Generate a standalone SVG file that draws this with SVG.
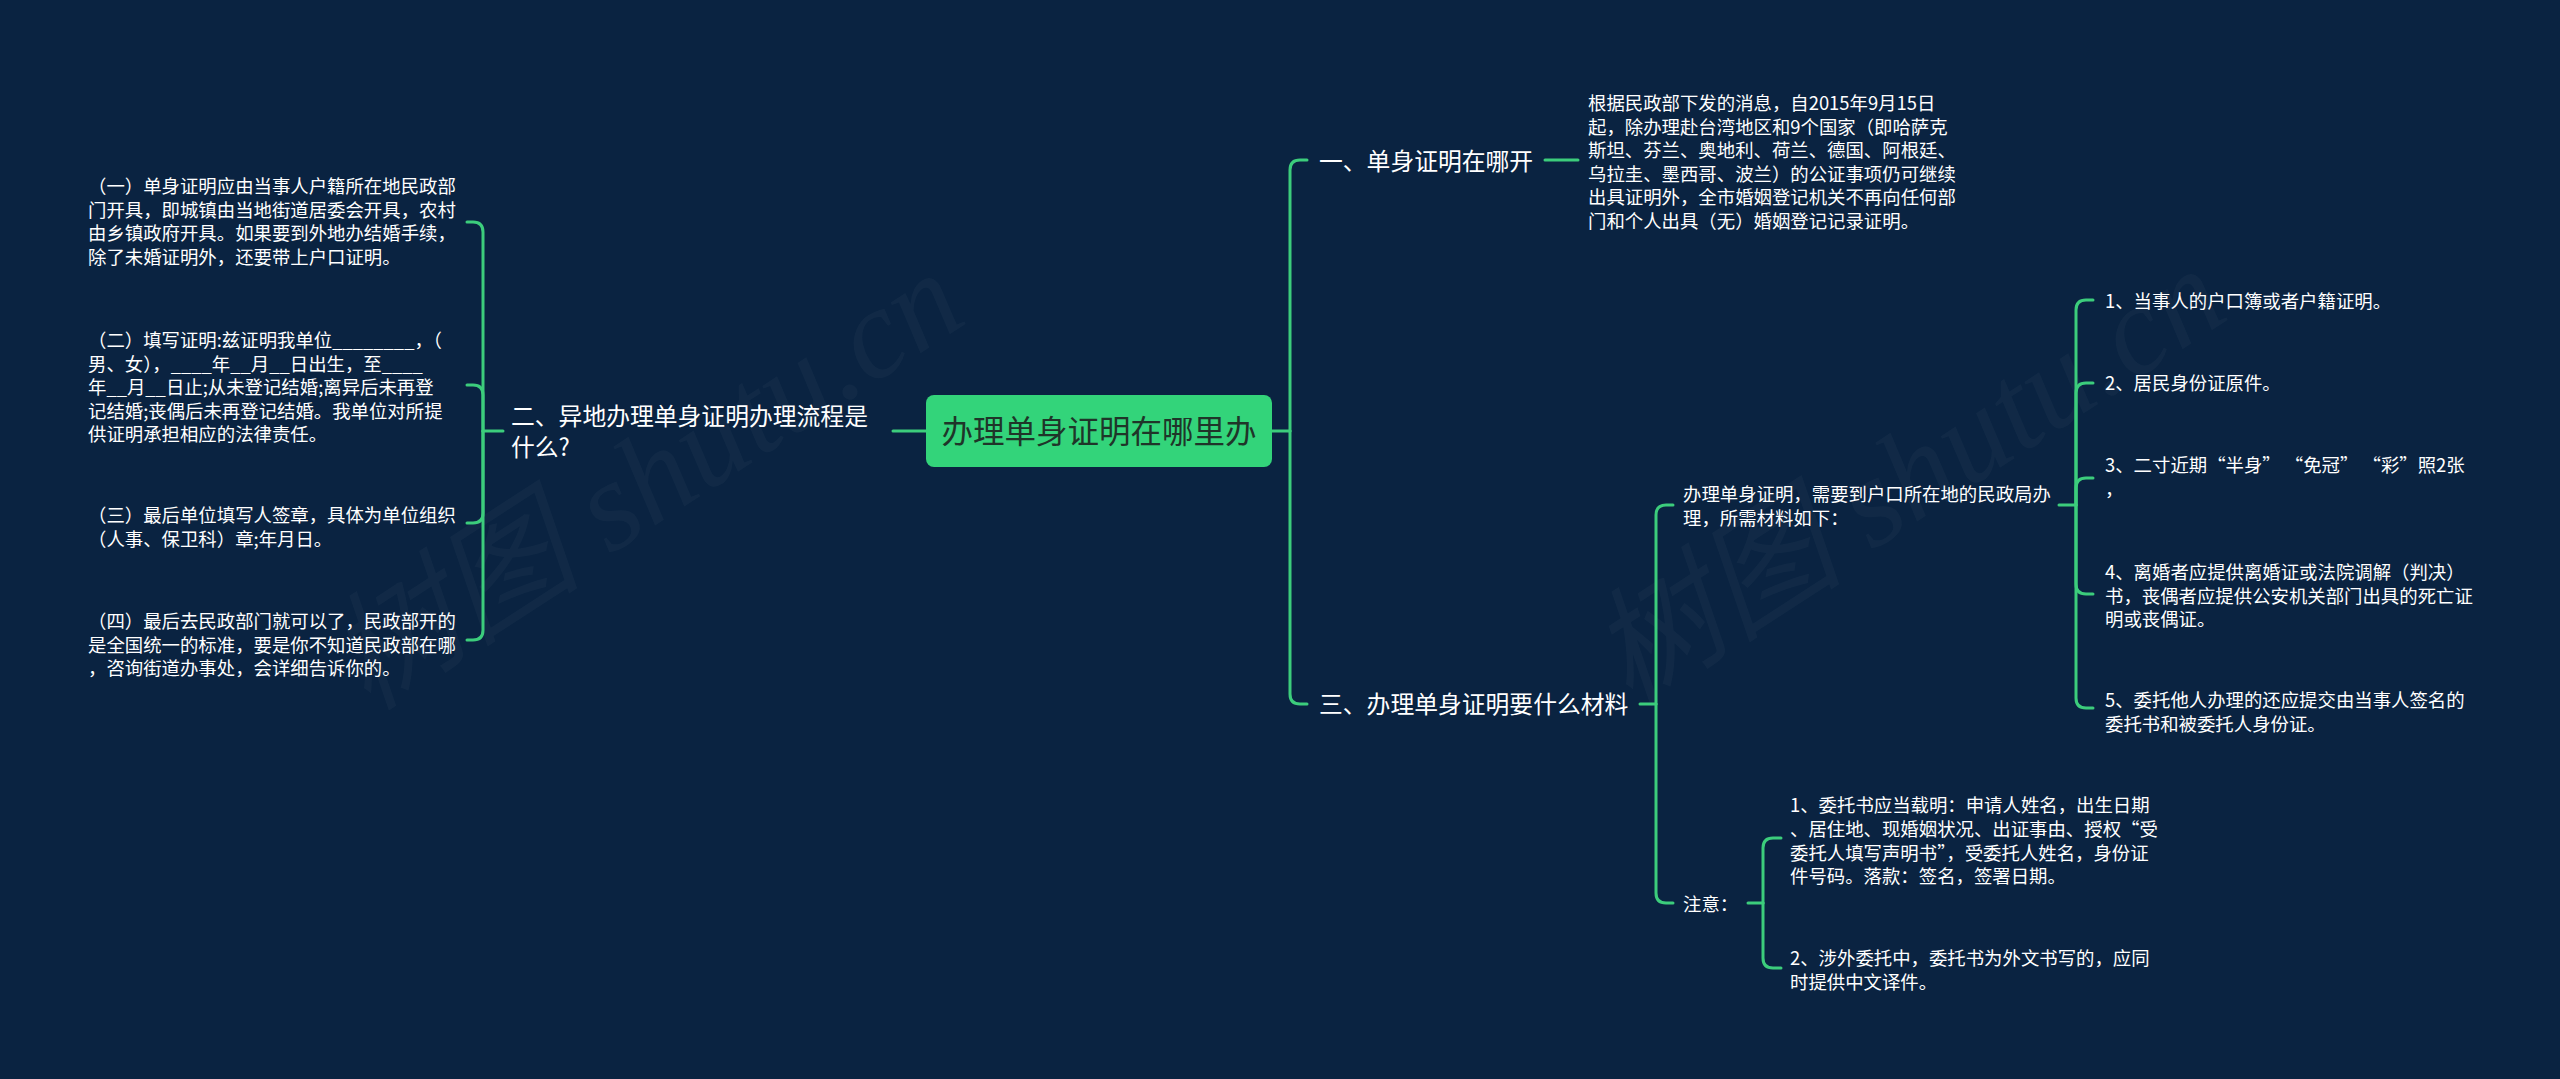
<svg xmlns="http://www.w3.org/2000/svg" width="2560" height="1079" viewBox="0 0 2560 1079">
<style>
.bg{fill:#0a2341}
.t{font-family:"Noto Sans CJK SC","Noto Sans",sans-serif;fill:#ffffff}
.s{font-size:18.4px}
.m{font-size:23.8px}
.c{font-size:31.5px;fill:#1f3529}
.ln{fill:none;stroke:#3ccd7c;stroke-width:3;stroke-linecap:round;stroke-linejoin:round}
.wm{font-family:"Liberation Serif","Noto Sans CJK SC",serif;font-style:italic;font-size:128px;fill:#ffffff;fill-opacity:0.032}
</style>
<rect class="bg" x="0" y="0" width="2560" height="1079"/>
<g id="watermarks">
<text class="wm" transform="translate(368,712) rotate(-33)">树图 shutu.cn</text>
<text class="wm" transform="translate(1630,708) rotate(-33)">树图 shutu.cn</text>
</g>
<g id="connectors">
<path class="ln" d="M926,431 L893,431"/>
<path class="ln" d="M503,431 L483,431"/>
<path class="ln" d="M483,431 L483,232 Q483,222 473,222 L467,222"/>
<path class="ln" d="M483,431 L483,395 Q483,385 473,385 L467,385"/>
<path class="ln" d="M483,431 L483,513 Q483,523 473,523 L467,523"/>
<path class="ln" d="M483,431 L483,630 Q483,640 473,640 L467,640"/>
<path class="ln" d="M1272,431 L1290,431"/>
<path class="ln" d="M1290,431 L1290,170 Q1290,160 1300,160 L1307,160"/>
<path class="ln" d="M1290,431 L1290,694 Q1290,704 1300,704 L1307,704"/>
<path class="ln" d="M1545,160 L1578,160"/>
<path class="ln" d="M1640,704 L1656,704"/>
<path class="ln" d="M1656,704 L1656,515 Q1656,505 1666,505 L1673,505"/>
<path class="ln" d="M1656,704 L1656,893 Q1656,903 1666,903 L1673,903"/>
<path class="ln" d="M2059,505 L2076,505"/>
<path class="ln" d="M2076,505 L2076,310 Q2076,300 2086,300 L2093,300"/>
<path class="ln" d="M2076,505 L2076,393 Q2076,383 2086,383 L2093,383"/>
<path class="ln" d="M2076,505 L2076,488 Q2076,478 2086,478 L2093,478"/>
<path class="ln" d="M2076,505 L2076,584 Q2076,594 2086,594 L2093,594"/>
<path class="ln" d="M2076,505 L2076,698 Q2076,708 2086,708 L2093,708"/>
<path class="ln" d="M1748,903 L1763,903"/>
<path class="ln" d="M1763,903 L1763,848 Q1763,838 1773,838 L1781,838"/>
<path class="ln" d="M1763,903 L1763,958 Q1763,968 1773,968 L1781,968"/>
</g>
<g id="root">
<rect x="926" y="395" width="346" height="72" rx="8" fill="#33d47a"/>
<text class="t c" x="1099" y="443" text-anchor="middle">办理单身证明在哪里办</text>
</g>
<g id="n2">
<text class="t m" x="511" y="425">二、异地办理单身证明办理流程是<tspan x="511" dy="31">什么?</tspan></text>
</g>
<g id="n2-1">
<text class="t s" x="88" y="193">（一）单身证明应由当事人户籍所在地民政部<tspan x="88" dy="23.6">门开具，即城镇由当地街道居委会开具，农村</tspan><tspan x="88" dy="23.6">由乡镇政府开具。如果要到外地办结婚手续，</tspan><tspan x="88" dy="23.6">除了未婚证明外，还要带上户口证明。</tspan></text>
</g>
<g id="n2-2">
<text class="t s" x="88" y="347">（二）填写证明:兹证明我单位________，（<tspan x="88" dy="23.6">男、女），____年__月__日出生，至____</tspan><tspan x="88" dy="23.6">年__月__日止;从未登记结婚;离异后未再登</tspan><tspan x="88" dy="23.6">记结婚;丧偶后未再登记结婚。我单位对所提</tspan><tspan x="88" dy="23.6">供证明承担相应的法律责任。</tspan></text>
</g>
<g id="n2-3">
<text class="t s" x="88" y="522">（三）最后单位填写人签章，具体为单位组织<tspan x="88" dy="23.6">（人事、保卫科）章;年月日。</tspan></text>
</g>
<g id="n2-4">
<text class="t s" x="88" y="628">（四）最后去民政部门就可以了，民政部开的<tspan x="88" dy="23.6">是全国统一的标准，要是你不知道民政部在哪</tspan><tspan x="88" dy="23.6">，咨询街道办事处，会详细告诉你的。</tspan></text>
</g>
<g id="n1">
<text class="t m" x="1319" y="170">一、单身证明在哪开</text>
</g>
<g id="n1-1">
<text class="t s" x="1588" y="110">根据民政部下发的消息，自2015年9月15日<tspan x="1588" dy="23.5">起，除办理赴台湾地区和9个国家（即哈萨克</tspan><tspan x="1588" dy="23.5">斯坦、芬兰、奥地利、荷兰、德国、阿根廷、</tspan><tspan x="1588" dy="23.5">乌拉圭、墨西哥、波兰）的公证事项仍可继续</tspan><tspan x="1588" dy="23.5">出具证明外，全市婚姻登记机关不再向任何部</tspan><tspan x="1588" dy="23.5">门和个人出具（无）婚姻登记记录证明。</tspan></text>
</g>
<g id="n3">
<text class="t m" x="1319" y="713">三、办理单身证明要什么材料</text>
</g>
<g id="n3-1">
<text class="t s" x="1683" y="501">办理单身证明，需要到户口所在地的民政局办<tspan x="1683" dy="23.5">理，所需材料如下：</tspan></text>
</g>
<g id="n3-1-1">
<text class="t s" x="2105" y="308">1、当事人的户口簿或者户籍证明。</text>
</g>
<g id="n3-1-2">
<text class="t s" x="2105" y="390">2、居民身份证原件。</text>
</g>
<g id="n3-1-3">
<text class="t s" x="2105" y="472">3、二寸近期“半身” “免冠” “彩”照2张<tspan x="2105" dy="24">，</tspan></text>
</g>
<g id="n3-1-4">
<text class="t s" x="2105" y="579">4、离婚者应提供离婚证或法院调解（判决）<tspan x="2105" dy="23.5">书，丧偶者应提供公安机关部门出具的死亡证</tspan><tspan x="2105" dy="23.5">明或丧偶证。</tspan></text>
</g>
<g id="n3-1-5">
<text class="t s" x="2105" y="707">5、委托他人办理的还应提交由当事人签名的<tspan x="2105" dy="23.5">委托书和被委托人身份证。</tspan></text>
</g>
<g id="n3-2">
<text class="t s" x="1683" y="911">注意：</text>
</g>
<g id="n3-2-1">
<text class="t s" x="1790" y="812">1、委托书应当载明：申请人姓名，出生日期<tspan x="1790" dy="23.8">、居住地、现婚姻状况、出证事由、授权“受</tspan><tspan x="1790" dy="23.8">委托人填写声明书”，受委托人姓名，身份证</tspan><tspan x="1790" dy="23.8">件号码。落款：签名，签署日期。</tspan></text>
</g>
<g id="n3-2-2">
<text class="t s" x="1790" y="965">2、涉外委托中，委托书为外文书写的，应同<tspan x="1790" dy="23.8">时提供中文译件。</tspan></text>
</g>
</svg>
